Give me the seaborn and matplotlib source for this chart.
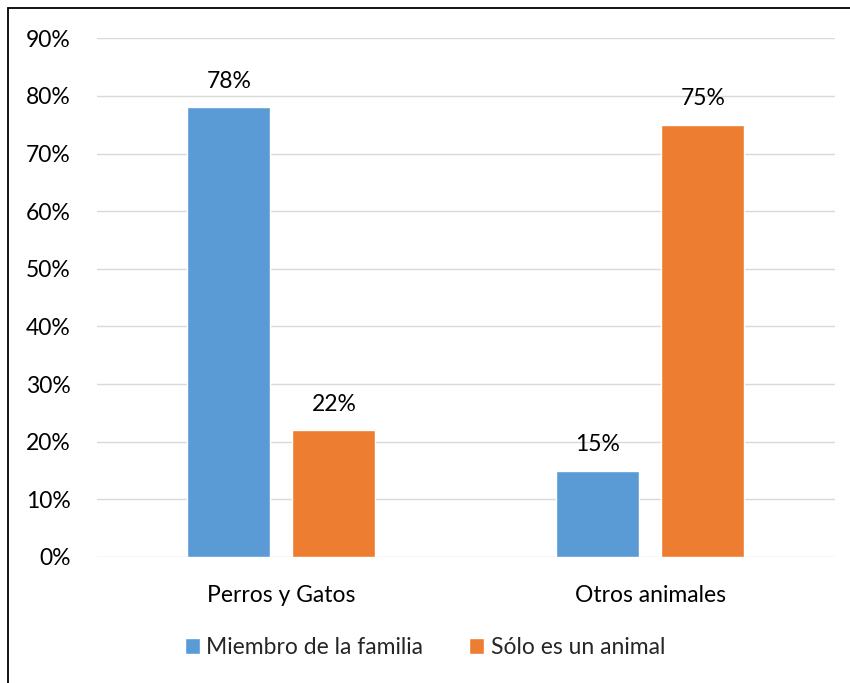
import matplotlib
matplotlib.use("Agg")
import matplotlib.pyplot as plt
import seaborn as sns
import pandas as pd
from matplotlib.patches import Rectangle

categories = ["Perros y Gatos", "Otros animales"]
series = ["Miembro de la familia", "Sólo es un animal"]
miembro = [0.78, 0.15]
solo = [0.22, 0.75]
yticks = [0.0, 0.1, 0.2, 0.3, 0.4, 0.5, 0.6, 0.7, 0.8, 0.9]
colors = ["#5B9BD5", "#ED7D31"]

df = pd.DataFrame({
    "categoria": categories * 2,
    "serie": [series[0]] * 2 + [series[1]] * 2,
    "valor": miembro + solo,
})

sns.set_theme(style="white")
plt.rcParams["font.family"] = ["Lato", "DejaVu Sans"]

FS = 16.5

fig = plt.figure(figsize=(8.5, 6.83), dpi=100)
ax = fig.add_axes([0.114, 0.1845, 0.868, 0.7595])

sns.barplot(data=df, x="categoria", y="valor", hue="serie", order=categories,
            hue_order=series, palette=colors, width=0.57, gap=0.21,
            saturation=1, ax=ax, legend=True)

ax.set_ylim(0, 0.9)
ax.set_xlim(-0.5, 1.5)
ax.set_yticks(yticks)
ax.set_yticklabels([f"{int(round(t * 100))}%" for t in yticks], fontsize=FS, color="#000000")
ax.tick_params(axis="x", labelsize=FS, labelcolor="#000000", pad=14)
ax.tick_params(axis="y", pad=13)
ax.set_xlabel("")
ax.set_ylabel("")
ax.grid(axis="y", color="#D9D9D9", linewidth=1)
ax.set_axisbelow(True)
for s in ax.spines.values():
    s.set_visible(False)

for cont in ax.containers:
    labels = [f"{int(round(v * 100))}%" for v in cont.datavalues]
    ax.bar_label(cont, labels=labels, padding=11, fontsize=FS, color="#000000")

handles, labels = ax.get_legend_handles_labels()
ax.legend_.remove()
fig.legend(handles, labels, loc="center", bbox_to_anchor=(0.5, 0.052), ncol=2,
           frameon=False, fontsize=FS, handlelength=0.65, handleheight=0.7,
           handletextpad=0.3, columnspacing=2.0)

# outer frame of the chart area
fig.patches.append(Rectangle((8 / 850, -0.05), 1.2, 1 - 8 / 683 + 0.05,
                             transform=fig.transFigure, fill=False,
                             edgecolor="#000000", linewidth=1.3))

fig.savefig("out.png", dpi=100)
